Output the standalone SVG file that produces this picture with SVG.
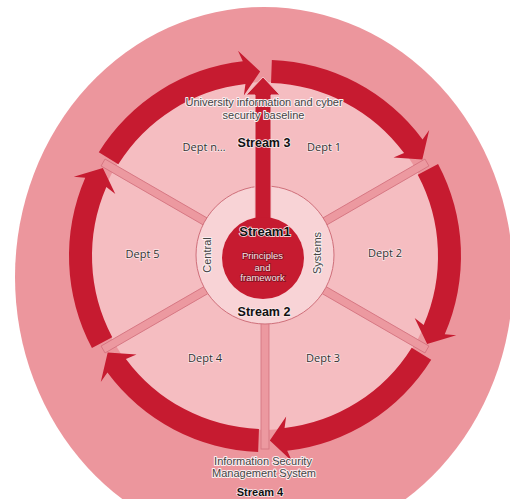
<svg xmlns="http://www.w3.org/2000/svg" xmlns:xlink="http://www.w3.org/1999/xlink" width="510" height="499" viewBox="0 0 510 499">
<style>
.txt{font-family:"Liberation Sans",Arial,sans-serif;font-size:11px;fill:#454545;text-anchor:middle;stroke:#fbeef0;stroke-width:2px;paint-order:stroke;stroke-linejoin:round}
.dept{font-family:"Open Sans","Liberation Sans",sans-serif;font-size:11px;fill:#333;text-anchor:middle;stroke:#fbe4e6;stroke-width:1.5px;paint-order:stroke}
.strm{font-family:"Liberation Sans",Arial,sans-serif;font-weight:bold;font-size:12.5px;fill:#111;text-anchor:middle;stroke:#fbe8ea;stroke-width:1.5px;paint-order:stroke}
.inv{font-family:"Liberation Sans",Arial,sans-serif;font-size:9.5px;fill:#fbe3e5;text-anchor:middle;stroke:#7d1020;stroke-width:1.4px;paint-order:stroke}
.dark{fill:#c61b30}
.spoke{fill:#ec99a0;stroke:#d3727e;stroke-width:0.8}
</style>
<defs>
<path id="seg" class="dark" d="M271.84 60.12 A196 196 0 0 1 422.56 139.41 L429.22 129.99 L422.31 159.60 L393.52 157.38 L404.07 153.10 A173 173 0 0 0 271.04 83.11 Z"/>
</defs>
<g id="background">
<ellipse cx="264" cy="277" rx="249" ry="270" fill="#ec969d"/>
<circle cx="265" cy="256" r="174" fill="#f5bdc1"/>
</g>
<g id="connectors">
<rect class="spoke" x="330" y="252" width="122" height="8" transform="rotate(-30 265 256)"/>
<rect class="spoke" x="330" y="252" width="122" height="8" transform="rotate(30 265 256)"/>
<rect class="spoke" x="330" y="252" width="128" height="8" transform="rotate(90 265 256)"/>
<rect class="spoke" x="330" y="252" width="122" height="8" transform="rotate(150 265 256)"/>
<rect class="spoke" x="330" y="252" width="122" height="8" transform="rotate(210 265 256)"/>
<use xlink:href="#seg"/>
<use xlink:href="#seg" transform="rotate(60 265 256)"/>
<use xlink:href="#seg" transform="rotate(120 265 256)"/>
<use xlink:href="#seg" transform="rotate(180 265 256)"/>
<use xlink:href="#seg" transform="rotate(240 265 256)"/>
<use xlink:href="#seg" transform="rotate(300 265 256)"/>
</g>
<g id="stream2">
<circle cx="265" cy="255" r="69" fill="#f8d3d6" stroke="#cf6f7a" stroke-width="1"/>
<text class="txt" transform="translate(211 255) rotate(-90)">Central</text>
<text class="txt" transform="translate(321 253) rotate(-90)">Systems</text>
<text class="strm" x="264" y="316">Stream 2</text>
</g>
<g id="stream1">
<path class="dark" d="M255 230 L255 95 L246 95 L263 77 L280 95 L271 95 L271 230 Z" stroke="#f2c3c7" stroke-width="1"/>
<circle class="dark" cx="263" cy="258" r="41"/>
<text class="strm" x="265" y="236" style="font-size:13px">Stream1</text>
<text class="inv" x="262.5" y="259">Principles</text>
<text class="inv" x="262.5" y="270.5">and</text>
<text class="inv" x="262.5" y="281">framework</text>
</g>
<g id="stream3">
<text class="txt" x="264" y="106">University information and cyber</text>
<text class="txt" x="263.5" y="118.5">security baseline</text>
<text class="strm" x="264" y="147">Stream 3</text>
</g>
<g id="stream4">
<text class="txt" x="263" y="465">Information Security</text>
<text class="txt" x="264" y="477">Management System</text>
<text class="strm" x="260" y="496" style="font-size:11px">Stream 4</text>
</g>
<g id="dept-n"><text class="dept" x="204" y="151">Dept n…</text></g>
<g id="dept-1"><text class="dept" x="324" y="151">Dept 1</text></g>
<g id="dept-2"><text class="dept" x="385" y="257">Dept 2</text></g>
<g id="dept-3"><text class="dept" x="323" y="362">Dept 3</text></g>
<g id="dept-4"><text class="dept" x="205" y="362">Dept 4</text></g>
<g id="dept-5"><text class="dept" x="142.5" y="257.5">Dept 5</text></g>
</svg>
